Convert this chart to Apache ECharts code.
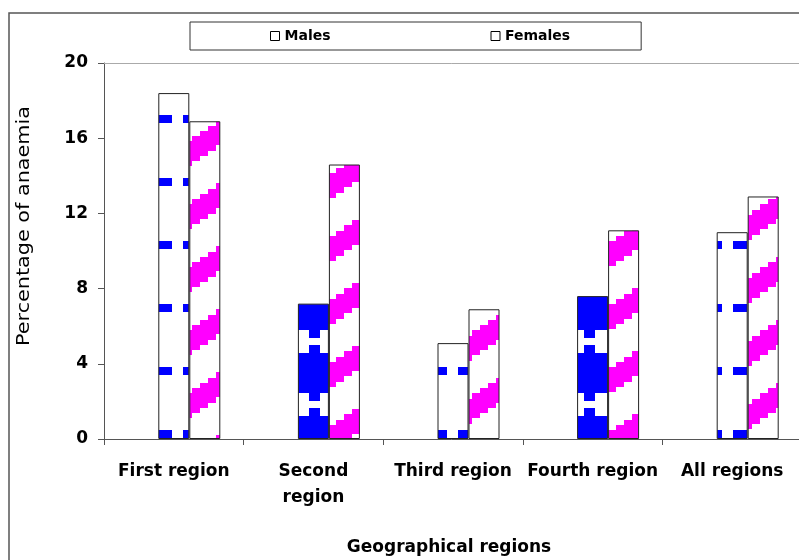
<!DOCTYPE html>
<html><head><meta charset="utf-8">
<script src="https://cdn.jsdelivr.net/npm/echarts@6/dist/echarts.min.js"></script>
<style>html,body{margin:0;padding:0;background:#fff}#c{width:799px;height:560px}</style>
</head><body><div id="c"></div>
<script>
// ---- data ----
const categories = ['First region', 'Second\nregion', 'Third region', 'Fourth region', 'All regions'];
const males = [18.4, 7.2, 5.1, 7.6, 11.0];
const females = [16.9, 14.6, 6.9, 11.1, 12.9];
const yMin = 0, yMax = 20, yStep = 4;
const seriesNames = ['Males', 'Females'];
const axisTitleX = 'Geographical regions';
const axisTitleY = 'Percentage of anaemia';
// fill style per male bar (style only)
const maleFillKind = ['dash', 'block', 'dash', 'block', 'dash'];

// ---- pattern tiles ----
function tile(w, h, draw) {
  const c = document.createElement('canvas');
  c.width = w; c.height = h;
  const g = c.getContext('2d');
  g.fillStyle = '#fff'; g.fillRect(0, 0, w, h);
  draw(g);
  return c;
}
const dashTile = tile(25, 63, g => { g.fillStyle = '#0000ff'; g.fillRect(8, 52, 14, 8); });
const blockTile = tile(25, 63, g => {
  g.fillStyle = '#0000ff';
  g.fillRect(0, 38, 25, 25); g.fillRect(0, 0, 25, 15);
  g.fillRect(9, 15, 11, 8); g.fillRect(9, 30, 11, 8);
});
const stripeTile = tile(96, 63, g => {
  g.fillStyle = '#ff00ff';
  const s = 63 / 96;
  for (let x = 0; x < 96; x += 8) {
    const top = ((12.66 - s * (x + 4)) % 63 + 63) % 63;
    for (const t of [top - 63, top, top + 63]) g.fillRect(x, Math.round(t), 8, 25);
  }
});
const pat = c => ({ image: c, repeat: 'repeat' });

const FONT = 'DejaVu Sans';
const chart = echarts.init(document.getElementById('c'), null, { renderer: 'canvas' });
chart.setOption({
  animation: false,
  backgroundColor: '#fff',
  grid: { left: 104, width: 698, top: 63, height: 376, show: false, outerBoundsMode: 'none', containLabel: false },
  legend: {
    data: seriesNames, left: 190, top: 22, padding: [7, 71, 7, 80], itemGap: 160,
    itemWidth: 9, itemHeight: 9, icon: 'rect',
    itemStyle: { color: '#fff', borderColor: '#000', borderWidth: 1, decal: 'none' },
    textStyle: { fontFamily: FONT, fontWeight: 'bold', fontSize: 14, color: '#000' },
    borderColor: '#333', borderWidth: 1, selectedMode: false
  },
  xAxis: [{
    type: 'category', data: categories,
    axisLine: { lineStyle: { color: '#555', width: 1 } },
    axisTick: { show: true, length: 6, lineStyle: { color: '#555' } },
    axisLabel: { interval: 0, margin: 20, lineHeight: 26, color: '#000', fontFamily: FONT, fontWeight: 'bold', fontSize: 17 },
    name: axisTitleX, nameLocation: 'middle', nameGap: 100,
    nameTextStyle: { color: '#000', fontFamily: FONT, fontWeight: 'bold', fontSize: 17, padding: [0, 8, 0, 0] }
  }, {
    type: 'category', data: categories, position: 'top',
    axisLine: { show: true, lineStyle: { color: '#aaa', width: 1 } },
    axisTick: { show: false }, axisLabel: { show: false }
  }],
  yAxis: {
    type: 'value', min: yMin, max: yMax, interval: yStep,
    axisLine: { show: true, lineStyle: { color: '#555', width: 1 } },
    axisTick: { show: true, length: 6, lineStyle: { color: '#555' } },
    splitLine: { show: false },
    axisLabel: { margin: 16, color: '#000', fontFamily: FONT, fontWeight: 'bold', fontSize: 17 }
  },
  graphic: [
    { type: 'rect', shape: { x: 9, y: 13, width: 820, height: 600 }, style: { fill: 'none', stroke: '#555', lineWidth: 1.5 }, silent: true, z: -1 },
    { type: 'text', x: 25, y: 226, rotation: Math.PI / 2, scaleX: 1.22,
      style: { text: axisTitleY, fill: '#000', font: '17px "DejaVu Sans"', align: 'center', verticalAlign: 'middle' } }
  ],
  series: [
    { name: 'spacer', type: 'bar', data: categories.map(() => null), barWidth: 31, barGap: '0%', silent: true },
    { name: seriesNames[0], type: 'bar', barWidth: 31, barGap: '0%',
      itemStyle: { borderColor: '#222', borderWidth: 1 },
      data: males.map((v, i) => ({ value: v, itemStyle: { color: pat(maleFillKind[i] === 'block' ? blockTile : dashTile) } })) },
    { name: seriesNames[1], type: 'bar', barWidth: 31, barGap: '0%',
      itemStyle: { borderColor: '#222', borderWidth: 1, color: pat(stripeTile) },
      data: females.slice() }
  ]
});
</script></body></html>
